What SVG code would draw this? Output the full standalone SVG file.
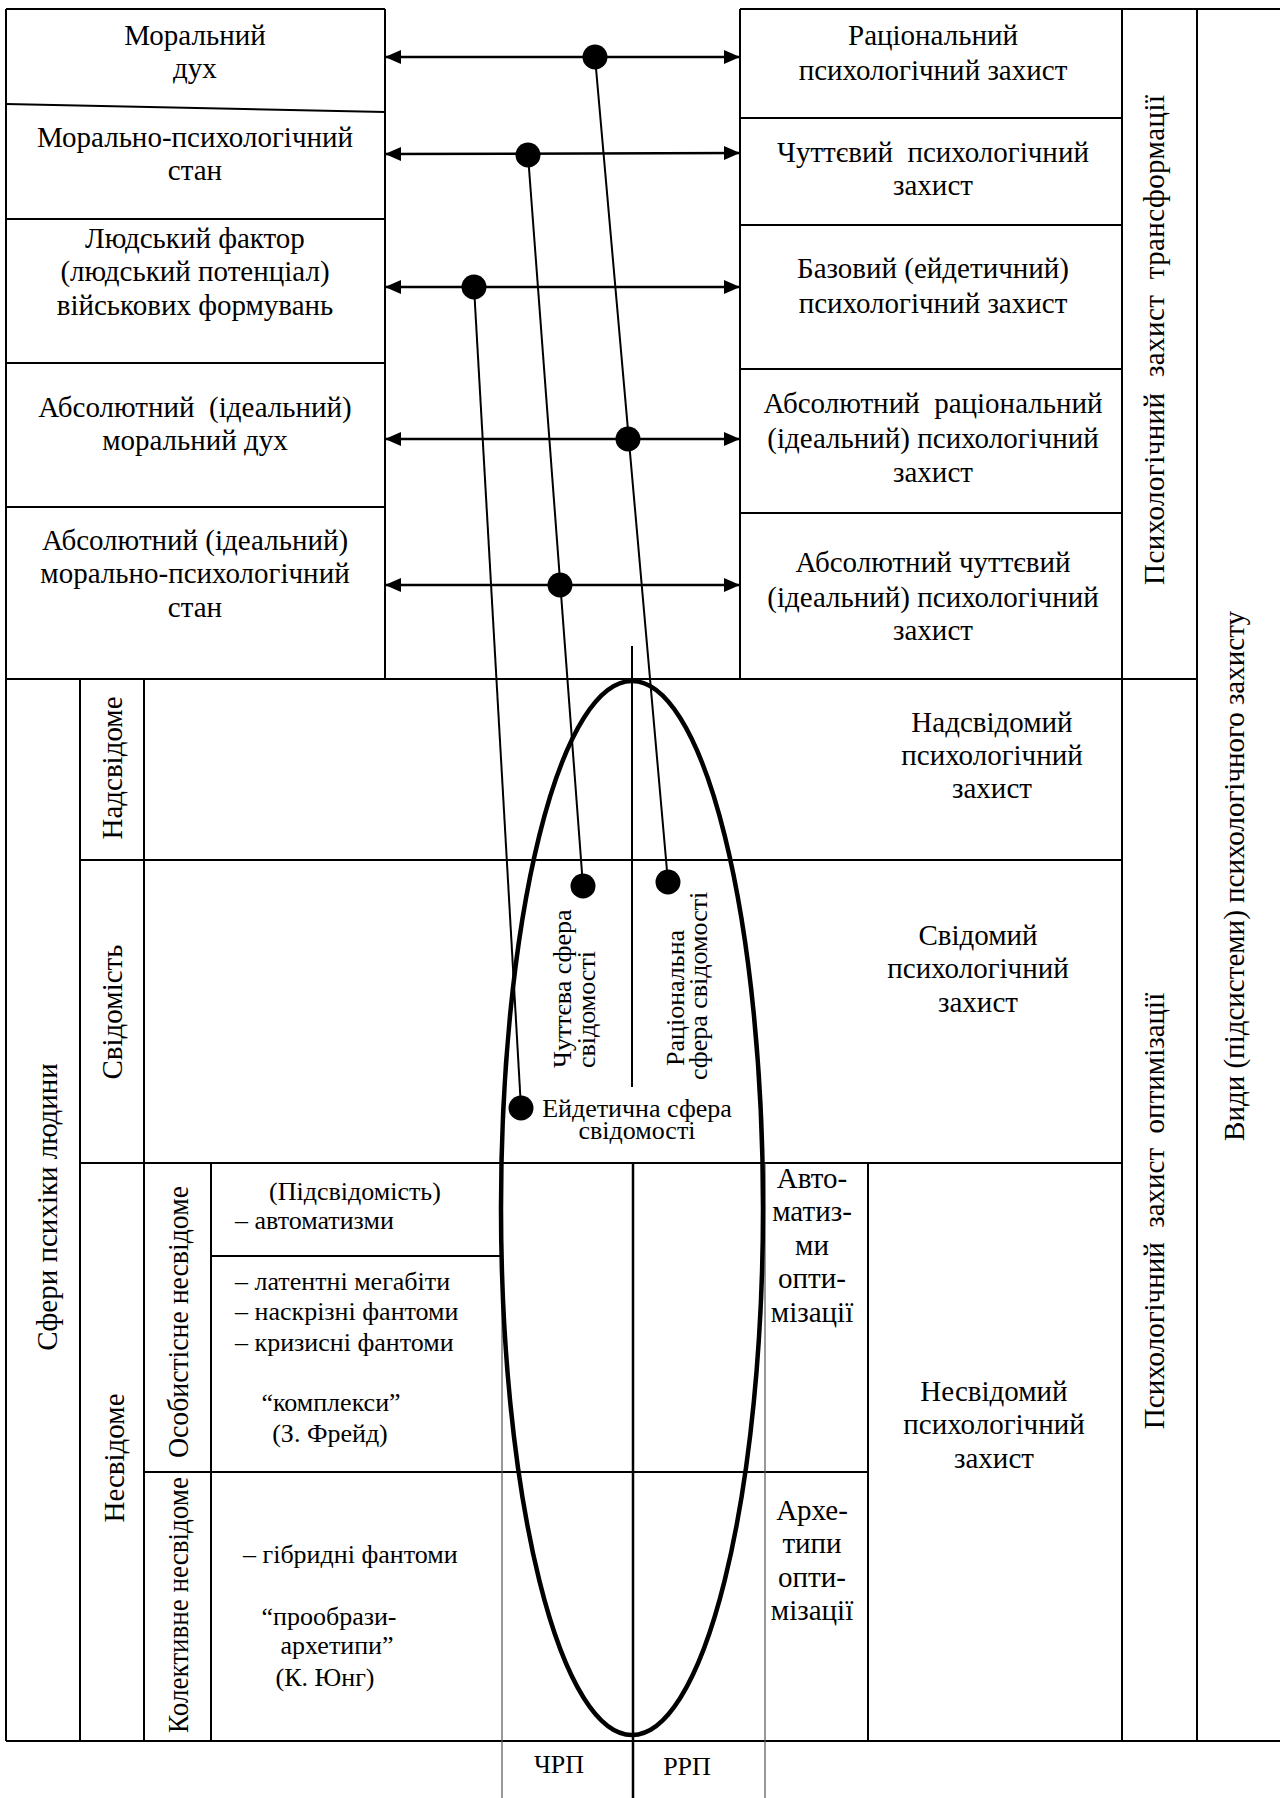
<svg xmlns="http://www.w3.org/2000/svg" width="1280" height="1798" viewBox="0 0 1280 1798">
<style>
.b{fill:none;stroke:#000;stroke-width:2}
.t{font-family:"Liberation Serif","Times New Roman",serif;font-size:29px;fill:#000;text-anchor:middle}
.s{font-family:"Liberation Serif","Times New Roman",serif;font-size:26px;fill:#000}
.c{stroke:#000;stroke-width:2;fill:none}
.a{stroke:#000;stroke-width:2.5;fill:none;marker-start:url(#ah);marker-end:url(#ah)}
.thin{stroke:#555;stroke-width:1.2;fill:none}
</style>
<defs>
<marker id="ah" markerUnits="userSpaceOnUse" markerWidth="18" markerHeight="16" refX="16" refY="7" orient="auto-start-reverse" viewBox="0 0 18 14"><path d="M0,0 L16,7 L0,14 z" fill="#000"/></marker>
</defs>
<rect width="1280" height="1798" fill="#fff"/>

<g id="frame">
<line class="b" x1="6" y1="9" x2="385" y2="9"/>
<line class="b" x1="740" y1="9" x2="1280" y2="9"/>
<line class="b" x1="6" y1="9" x2="6" y2="1741"/>
<line class="b" x1="385" y1="9" x2="385" y2="679"/>
<line class="b" x1="740" y1="9" x2="740" y2="679"/>
<line class="b" x1="1122" y1="9" x2="1122" y2="1741"/>
<line class="b" x1="1197" y1="9" x2="1197" y2="1741"/>
<line class="b" x1="6" y1="679" x2="1197" y2="679"/>
<line class="b" x1="6" y1="1741" x2="1280" y2="1741"/>
<line class="b" x1="80" y1="679" x2="80" y2="1741"/>
<line class="b" x1="144" y1="679" x2="144" y2="1741"/>
<line class="b" x1="80" y1="860" x2="1122" y2="860"/>
<line class="b" x1="80" y1="1163" x2="1122" y2="1163"/>
<line class="b" x1="211" y1="1163" x2="211" y2="1741"/>
<line class="b" x1="211" y1="1256" x2="502" y2="1256"/>
<line class="b" x1="144" y1="1472" x2="868" y2="1472"/>
<line class="b" x1="868" y1="1163" x2="868" y2="1741"/>
<line class="thin" x1="502" y1="1163" x2="502" y2="1798"/>
<line class="thin" x1="765" y1="1163" x2="765" y2="1798"/>
</g>

<g id="left-boxes">
<line class="b" x1="6" y1="104" x2="385" y2="112"/>
<line class="b" x1="6" y1="219" x2="385" y2="219"/>
<line class="b" x1="6" y1="363" x2="385" y2="363"/>
<line class="b" x1="6" y1="507" x2="385" y2="507"/>
</g>
<g id="n-moral-spirit"><text class="t" x="195" y="45">Моральний</text><text class="t" x="195" y="78">дух</text></g>
<g id="n-moral-psych"><text class="t" x="195" y="147">Морально-психологічний</text><text class="t" x="195" y="180">стан</text></g>
<g id="n-human-factor"><text class="t" x="195" y="248">Людський фактор</text><text class="t" x="195" y="281">(людський потенціал)</text><text class="t" x="195" y="315">військових формувань</text></g>
<g id="n-abs-moral-spirit"><text class="t" x="195" y="417" style="white-space:pre">Абсолютний  (ідеальний)</text><text class="t" x="195" y="450">моральний дух</text></g>
<g id="n-abs-moral-psych"><text class="t" x="195" y="550">Абсолютний (ідеальний)</text><text class="t" x="195" y="583">морально-психологічний</text><text class="t" x="195" y="617">стан</text></g>

<g id="right-boxes">
<line class="b" x1="740" y1="118" x2="1122" y2="118"/>
<line class="b" x1="740" y1="225" x2="1122" y2="225"/>
<line class="b" x1="740" y1="369" x2="1122" y2="369"/>
<line class="b" x1="740" y1="513" x2="1122" y2="513"/>
</g>
<g id="n-rational"><text class="t" x="933" y="45">Раціональний</text><text class="t" x="933" y="80">психологічний захист</text></g>
<g id="n-sensual"><text class="t" x="933" y="162" style="white-space:pre">Чуттєвий  психологічний</text><text class="t" x="933" y="195">захист</text></g>
<g id="n-basic"><text class="t" x="933" y="278">Базовий (ейдетичний)</text><text class="t" x="933" y="313">психологічний захист</text></g>
<g id="n-abs-rational"><text class="t" x="933" y="413" style="white-space:pre">Абсолютний  раціональний</text><text class="t" x="933" y="448">(ідеальний) психологічний</text><text class="t" x="933" y="482">захист</text></g>
<g id="n-abs-sensual"><text class="t" x="933" y="572">Абсолютний чуттєвий</text><text class="t" x="933" y="607">(ідеальний) психологічний</text><text class="t" x="933" y="640">захист</text></g>

<g id="n-transform"><text class="t" transform="translate(1164,340) rotate(-90)" style="white-space:pre" textLength="490" lengthAdjust="spacing">Психологічний  захист  трансформації</text></g>
<g id="n-optim"><text class="t" transform="translate(1164,1211) rotate(-90)" style="white-space:pre">Психологічний  захист  оптимізації</text></g>
<g id="n-kinds"><text class="t" transform="translate(1244,876) rotate(-90)">Види (підсистеми) психологічного захисту</text></g>

<g id="n-spheres"><text class="t" transform="translate(57,1207) rotate(-90)">Сфери психіки людини</text></g>
<g id="n-superconscious"><text class="t" transform="translate(122,768) rotate(-90)">Надсвідоме</text></g>
<g id="n-conscious"><text class="t" transform="translate(122,1012) rotate(-90)">Свідомість</text></g>
<g id="n-unconscious"><text class="t" transform="translate(124,1458) rotate(-90)">Несвідоме</text></g>
<g id="n-personal"><text class="t" transform="translate(188,1322) rotate(-90)" textLength="272" lengthAdjust="spacingAndGlyphs">Особистісне несвідоме</text></g>
<g id="n-collective"><text class="t" transform="translate(188,1605) rotate(-90)" textLength="256" lengthAdjust="spacingAndGlyphs">Колективне несвідоме</text></g>

<g id="n-subconscious"><text class="s" x="355" y="1200" text-anchor="middle">(Підсвідомість)</text><text class="s" x="235" y="1229">– автоматизми</text></g>
<g id="n-phantoms"><text class="s" x="235" y="1290">– латентні мегабіти</text><text class="s" x="235" y="1320">– наскрізні фантоми</text><text class="s" x="235" y="1351">– кризисні фантоми</text><text class="s" x="331" y="1411" text-anchor="middle">“комплекси”</text><text class="s" x="330" y="1442" text-anchor="middle">(З. Фрейд)</text></g>
<g id="n-archetypes"><text class="s" x="243" y="1563">– гібридні фантоми</text><text class="s" x="329" y="1625" text-anchor="middle">“прообрази-</text><text class="s" x="337" y="1654" text-anchor="middle">архетипи”</text><text class="s" x="325" y="1686" text-anchor="middle">(К. Юнг)</text></g>

<g id="n-superconscious-def"><text class="t" x="992" y="732">Надсвідомий</text><text class="t" x="992" y="765">психологічний</text><text class="t" x="992" y="798">захист</text></g>
<g id="n-conscious-def"><text class="t" x="978" y="945">Свідомий</text><text class="t" x="978" y="978">психологічний</text><text class="t" x="978" y="1012">захист</text></g>
<g id="n-unconscious-def"><text class="t" x="994" y="1401">Несвідомий</text><text class="t" x="994" y="1434">психологічний</text><text class="t" x="994" y="1468">захист</text></g>
<g id="n-auto-opt"><text class="t" x="812" y="1188">Авто-</text><text class="t" x="812" y="1221">матиз-</text><text class="t" x="812" y="1255">ми</text><text class="t" x="812" y="1288">опти-</text><text class="t" x="812" y="1322">мізації</text></g>
<g id="n-arch-opt"><text class="t" x="812" y="1520">Архе-</text><text class="t" x="812" y="1553">типи</text><text class="t" x="812" y="1587">опти-</text><text class="t" x="812" y="1620">мізації</text></g>

<g id="n-chrp"><text class="s" x="559" y="1773" text-anchor="middle">ЧРП</text></g>
<g id="n-rrp"><text class="s" x="687" y="1775" text-anchor="middle">РРП</text></g>

<g id="n-sensual-sphere"><text class="s" transform="translate(571,1068) rotate(-90)">Чуттєва сфера</text><text class="s" transform="translate(595,1068) rotate(-90)">свідомості</text></g>
<g id="n-rational-sphere"><text class="s" transform="translate(684,1066) rotate(-90)">Раціональна</text><text class="s" transform="translate(707,1080) rotate(-90)">сфера свідомості</text></g>
<g id="n-eidetic-sphere"><text class="s" x="637" y="1117" text-anchor="middle">Ейдетична сфера</text><text class="s" x="637" y="1139" text-anchor="middle">свідомості</text></g>

<g id="connectors">
<line class="a" x1="385" y1="57" x2="740" y2="57"/>
<line class="a" x1="385" y1="154" x2="740" y2="153"/>
<line class="a" x1="385" y1="287" x2="740" y2="287"/>
<line class="a" x1="385" y1="439" x2="740" y2="439"/>
<line class="a" x1="385" y1="585" x2="740" y2="585"/>
<line class="c" x1="595" y1="57" x2="668" y2="882"/>
<line class="c" x1="528" y1="155" x2="583" y2="886"/>
<line class="c" x1="474" y1="287" x2="521" y2="1108"/>
<line class="c" x1="632" y1="646" x2="632" y2="1087"/>
<line class="c" x1="633" y1="1163" x2="633" y2="1798" style="stroke-width:2.5"/>
<ellipse cx="632" cy="1208" rx="131" ry="527" fill="none" stroke="#000" stroke-width="4.5"/>
<circle cx="595" cy="57" r="12.5"/>
<circle cx="528" cy="155" r="12.5"/>
<circle cx="474" cy="287" r="12.5"/>
<circle cx="628" cy="439" r="12.5"/>
<circle cx="560" cy="585" r="12.5"/>
<circle cx="668" cy="882" r="12.5"/>
<circle cx="583" cy="886" r="12.5"/>
<circle cx="521" cy="1108" r="12.5"/>
</g>
</svg>
